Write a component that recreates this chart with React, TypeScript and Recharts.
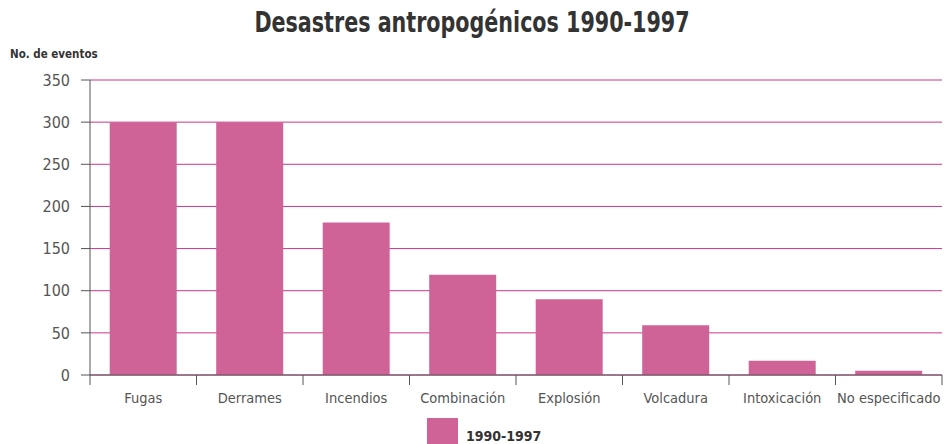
import React from "react";
import {
  BarChart,
  Bar,
  XAxis,
  YAxis,
  CartesianGrid,
} from "recharts";

const categories = [
  "Fugas",
  "Derrames",
  "Incendios",
  "Combinación",
  "Explosión",
  "Volcadura",
  "Intoxicación",
  "No especificado",
];
const eventos = [300, 300, 181, 119, 90, 59, 17, 5];
const yTicks = [0, 50, 100, 150, 200, 250, 300, 350];

const W = 944;
const H = 444;
const X_AXIS_H = 30;
const M = { top: 80, right: 2, left: 0, bottom: 69 - X_AXIS_H };
const Y_AXIS_W = 90;
const BAND = (W - M.left - M.right - Y_AXIS_W) / categories.length;

const FONT = '"DejaVu Sans Condensed", "Liberation Sans Narrow", "Arial Narrow", sans-serif';
const PINK = "#cf6398";
const GRID = "#c8378a";
const AXIS = "#555";

const data = categories.map((name, i) => ({ name, eventos: eventos[i] }));

// category label centred in its band, tick marks on the band edges
const CategoryTick = (props: any) => {
  const { x, y, payload, index } = props;
  const left = x - BAND / 2;
  return (
    <g>
      <line x1={left} y1={y - 8} x2={left} y2={y + 2} stroke={AXIS} />
      {index === categories.length - 1 && (
        <line x1={x + BAND / 2} y1={y - 8} x2={x + BAND / 2} y2={y + 2} stroke={AXIS} />
      )}
      <text
        x={x}
        y={y + 20}
        textAnchor="middle"
        fontSize={14.5}
        fill={AXIS}
        fontFamily={FONT}
      >
        {payload.value}
      </text>
    </g>
  );
};

export default function App() {
  return (
    <div style={{ position: "absolute", left: 0, top: 0, width: W, height: H, background: "#fff", overflow: "hidden" }}>
      <div
        style={{
          position: "absolute",
          left: 0,
          top: 6,
          width: W,
          textAlign: "center",
          fontFamily: FONT,
          fontWeight: "bold",
          fontSize: 28,
          color: "#333",
          transform: "scaleX(0.82)",
        }}
      >
        Desastres antropogénicos 1990-1997
      </div>
      <div
        style={{
          position: "absolute",
          left: 10,
          top: 47,
          fontFamily: FONT,
          fontWeight: "bold",
          fontSize: 11.5,
          color: "#333",
        }}
      >
        No. de eventos
      </div>
      <BarChart
        width={W}
        height={H}
        data={data}
        margin={M}
        barCategoryGap="18.5%"
      >
        <CartesianGrid vertical={false} stroke={GRID} />
        <XAxis
          dataKey="name"
          height={X_AXIS_H}
          interval={0}
          tickLine={false}
          axisLine={{ stroke: AXIS }}
          tick={<CategoryTick />}
        />
        <YAxis
          width={Y_AXIS_W}
          domain={[0, 350]}
          ticks={yTicks}
          interval={0}
          tickSize={9}
          tickMargin={11}
          axisLine={{ stroke: AXIS }}
          tickLine={{ stroke: AXIS }}
          tick={{ fontSize: 16, fill: AXIS, fontFamily: FONT }}
        />
        <Bar dataKey="eventos" name="1990-1997" fill={PINK} isAnimationActive={false} />
      </BarChart>
      <div
        style={{
          position: "absolute",
          left: 427,
          top: 418,
          display: "flex",
          alignItems: "flex-start",
          fontFamily: FONT,
        }}
      >
        <div style={{ width: 31, height: 26, background: PINK, marginRight: 8 }} />
        <span style={{ fontWeight: "bold", fontSize: 14, color: "#333", marginTop: 10 }}>1990-1997</span>
      </div>
    </div>
  );
}
